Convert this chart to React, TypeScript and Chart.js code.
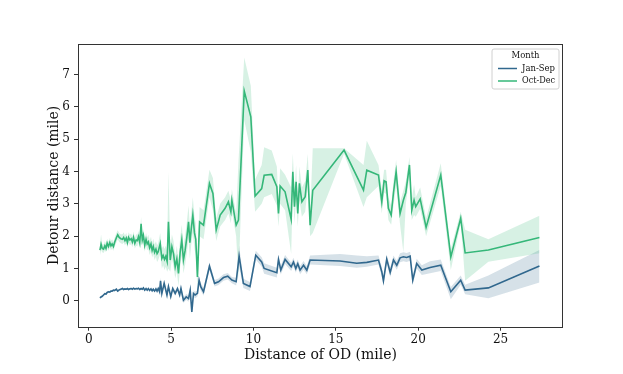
import React, { useEffect, useRef } from "react";
import { Chart, registerables } from "chart.js";

Chart.register(...registerables);

// ---- Data ----
const janSepX = [0.68,0.75,0.82,0.9,0.98,1.05,1.12,1.2,1.28,1.35,1.42,1.5,1.58,1.68,1.76,1.85,1.95,2.05,2.12,2.2,2.28,2.35,2.42,2.5,2.58,2.65,2.72,2.8,2.88,2.95,3.02,3.1,3.18,3.25,3.32,3.4,3.48,3.55,3.62,3.7,3.78,3.85,3.92,4.0,4.08,4.15,4.22,4.3,4.36,4.44,4.58,4.75,4.84,4.98,5.1,5.25,5.39,5.52,5.6,5.75,5.92,6.06,6.16,6.26,6.36,6.46,6.6,6.7,6.8,6.97,7.33,7.64,7.88,8.18,8.44,8.69,8.95,9.13,9.39,9.79,10.14,10.5,10.65,11.42,11.52,11.66,11.92,12.29,12.43,12.57,12.69,12.83,13.04,13.24,13.44,15.26,16.27,16.88,17.59,17.79,17.89,18.09,18.3,18.5,18.7,18.9,19.1,19.3,19.51,19.67,19.91,20.22,20.72,21.37,21.98,22.58,22.85,24.26,27.36];
const janSepMean = [0.09,0.12,0.14,0.18,0.22,0.21,0.26,0.28,0.27,0.3,0.3,0.33,0.32,0.36,0.3,0.34,0.36,0.38,0.35,0.37,0.36,0.38,0.35,0.37,0.38,0.36,0.39,0.36,0.38,0.37,0.39,0.35,0.38,0.36,0.4,0.33,0.38,0.33,0.38,0.32,0.37,0.31,0.36,0.3,0.37,0.3,0.38,0.28,0.62,0.23,0.54,0.18,0.44,0.13,0.38,0.23,0.38,0.18,0.38,0.02,0.12,0.07,0.33,-0.34,0.23,0.18,0.23,0.64,0.44,0.28,1.07,0.54,0.59,0.72,0.76,0.64,0.59,1.38,0.54,0.44,1.41,1.2,1.0,0.87,1.28,0.95,1.28,1.05,1.2,1.0,1.15,0.95,1.1,0.95,1.26,1.23,1.16,1.19,1.26,0.9,0.62,1.29,0.88,1.26,1.1,1.33,1.36,1.34,1.38,0.64,1.15,0.95,1.03,1.1,0.28,0.64,0.33,0.4,1.08];
const janSepLow = [0.06,0.09,0.11,0.15,0.19,0.18,0.23,0.25,0.24,0.27,0.27,0.3,0.29,0.33,0.27,0.31,0.33,0.35,0.32,0.34,0.33,0.35,0.32,0.34,0.35,0.33,0.36,0.33,0.35,0.34,0.36,0.32,0.35,0.33,0.37,0.3,0.35,0.3,0.35,0.29,0.34,0.28,0.33,0.27,0.33,0.26,0.34,0.24,0.52,0.17,0.46,0.12,0.36,0.06,0.3,0.15,0.3,0.1,0.29,-0.07,0.03,-0.03,0.23,-0.42,0.13,0.08,0.13,0.52,0.32,0.16,0.95,0.44,0.49,0.62,0.66,0.54,0.47,1.05,0.4,0.3,1.28,1.05,0.84,0.72,1.14,0.81,1.14,0.92,1.07,0.87,1.02,0.82,0.97,0.82,1.12,1.08,1.02,1.05,1.12,0.75,0.5,1.15,0.74,1.12,0.96,1.19,1.22,1.2,1.24,0.5,1.0,0.8,0.85,0.92,0.05,0.5,0.2,0.08,0.57];
const janSepHigh = [0.12,0.15,0.17,0.21,0.25,0.24,0.29,0.31,0.3,0.33,0.33,0.36,0.35,0.39,0.33,0.37,0.39,0.41,0.38,0.4,0.39,0.41,0.38,0.4,0.41,0.39,0.42,0.39,0.41,0.4,0.42,0.38,0.41,0.39,0.43,0.36,0.41,0.36,0.41,0.35,0.4,0.34,0.39,0.33,0.41,0.34,0.42,0.32,0.72,0.29,0.62,0.24,0.52,0.2,0.46,0.31,0.46,0.26,0.47,0.11,0.21,0.17,0.43,-0.24,0.33,0.28,0.33,0.76,0.56,0.4,1.19,0.64,0.69,0.82,0.86,0.74,0.71,1.7,0.68,0.58,1.55,1.35,1.16,1.02,1.42,1.09,1.42,1.18,1.33,1.13,1.28,1.08,1.23,1.08,1.4,1.45,1.4,1.38,1.4,1.05,0.75,1.43,1.02,1.4,1.24,1.47,1.5,1.48,1.52,0.78,1.3,1.1,1.22,1.28,0.43,0.78,0.5,0.78,1.57];

const octDecX = [0.68,0.75,0.82,0.9,0.98,1.05,1.12,1.2,1.28,1.35,1.42,1.5,1.58,1.68,1.76,1.85,1.95,2.05,2.12,2.2,2.28,2.35,2.42,2.5,2.58,2.65,2.72,2.8,2.88,2.95,3.02,3.1,3.18,3.25,3.32,3.4,3.48,3.55,3.62,3.7,3.78,3.85,3.92,4.0,4.08,4.15,4.22,4.34,4.44,4.52,4.6,4.68,4.76,4.84,4.95,5.05,5.15,5.25,5.35,5.45,5.55,5.65,5.75,5.85,5.96,6.06,6.14,6.22,6.32,6.42,6.5,6.6,6.73,6.97,7.33,7.54,7.74,7.98,8.28,8.48,8.63,8.69,8.95,9.09,9.44,9.84,10.1,10.5,10.65,11.11,11.42,11.52,11.62,11.92,12.29,12.39,12.49,12.59,12.69,12.79,12.94,13.14,13.3,13.44,13.6,15.5,16.68,16.88,17.59,17.79,17.93,18.05,18.19,18.36,18.5,18.66,18.9,19.1,19.25,19.47,19.61,19.75,19.85,20.12,20.48,21.37,21.98,22.58,22.85,24.26,27.36];
const octDecMean = [1.57,1.75,1.62,1.6,1.7,1.62,1.78,1.68,1.8,1.7,1.76,1.68,1.82,1.95,2.04,1.96,1.92,1.9,1.96,1.86,1.94,1.8,1.96,1.88,1.92,1.82,1.96,1.78,1.88,1.86,1.98,1.8,2.38,1.88,2.02,1.72,1.9,1.76,1.82,1.64,1.76,1.56,1.68,1.5,1.6,1.46,1.52,1.77,1.31,1.4,1.28,1.38,1.22,2.44,1.26,1.67,1.45,1.05,1.3,0.85,1.5,1.88,1.26,1.55,1.98,2.44,1.8,2.2,2.65,2.1,1.9,0.74,2.44,2.34,3.63,3.32,2.19,2.65,2.86,3.06,2.75,3.11,2.34,2.5,6.49,5.69,3.24,3.47,3.88,3.91,3.53,2.7,3.55,3.37,2.52,3.99,2.91,3.68,2.7,3.63,3.06,3.22,4.04,2.34,3.42,4.66,3.42,4.04,3.89,3.06,3.71,3.68,2.86,2.65,3.34,3.99,2.7,3.11,3.35,4.2,2.8,3.11,2.91,3.15,2.27,3.89,1.36,2.55,1.48,1.57,1.96];
const octDecLow = [1.4,1.58,1.5,1.48,1.56,1.5,1.64,1.55,1.66,1.56,1.62,1.55,1.68,1.8,1.9,1.82,1.78,1.76,1.8,1.72,1.78,1.64,1.8,1.72,1.76,1.66,1.8,1.62,1.7,1.68,1.8,1.62,2.15,1.7,1.82,1.52,1.7,1.56,1.6,1.42,1.54,1.34,1.44,1.26,1.36,1.2,1.26,1.45,1.0,1.1,0.95,1.05,0.9,1.0,0.9,1.3,1.05,0.7,0.9,0.45,1.05,1.4,0.85,1.1,1.5,1.9,1.3,1.7,2.1,1.6,1.4,0.3,2.0,1.9,3.2,2.8,1.85,2.3,2.5,2.7,2.4,2.75,2.0,0.7,5.6,4.6,2.75,3.0,3.2,3.3,2.95,2.3,3.0,2.8,1.45,3.4,2.4,3.1,2.3,3.1,2.6,2.75,3.5,2.0,2.1,4.55,2.9,3.2,3.55,2.7,3.35,3.3,2.5,2.35,2.95,3.55,2.35,1.5,3.0,3.85,2.5,2.65,2.6,2.85,2.0,3.55,0.95,2.4,0.62,1.21,1.47];
const octDecHigh = [1.72,2.05,1.76,1.74,1.84,1.76,1.92,1.82,1.94,1.85,1.9,1.82,1.96,2.1,2.18,2.1,2.06,2.06,2.12,2.02,2.1,1.96,2.12,2.04,2.08,1.98,2.14,1.94,2.06,2.04,2.16,1.98,2.6,2.06,2.22,1.92,2.1,1.96,2.04,1.86,1.98,1.78,1.92,1.74,1.84,1.72,1.78,2.1,1.62,1.7,1.6,1.7,1.55,4.0,1.62,2.05,1.85,1.4,1.7,1.25,1.95,2.35,1.7,2.0,2.45,2.95,2.3,2.7,3.2,2.6,2.4,1.2,2.9,2.8,4.05,3.8,2.55,3.0,3.2,3.4,3.1,3.45,2.7,4.3,7.52,6.65,3.75,4.2,4.75,4.65,4.15,3.1,4.1,3.9,3.5,4.55,3.45,4.2,3.1,4.15,3.5,3.7,4.55,2.7,4.72,4.72,4.2,4.95,4.2,3.45,4.05,4.05,3.2,2.95,3.7,4.35,3.05,3.4,3.7,4.45,3.15,3.6,3.2,3.5,2.55,4.25,1.6,2.75,2.2,1.9,2.63];

const xTicks = [0, 5, 10, 15, 20, 25];
const yTicks = [0, 1, 2, 3, 4, 5, 6, 7];
const seriesNames = ["Jan-Sep", "Oct-Dec"];

// ---- Style ----
const BLUE = "#31688e";
const GREEN = "#35b779";
const BLUE_FILL = "rgba(49,104,142,0.2)";
const GREEN_FILL = "rgba(53,183,121,0.2)";
const FONT = "'DejaVu Serif', serif";

const pts = (xs: number[], ys: number[]) => xs.map((x, i) => ({ x, y: ys[i] }));

const framePlugin = {
  id: "frameAndLegend",
  afterDraw(chart: any) {
    const { ctx, chartArea: a } = chart;
    ctx.save();
    ctx.strokeStyle = "#333";
    ctx.lineWidth = 1;
    ctx.strokeRect(Math.round(a.left) + 0.5, Math.round(a.top) + 0.5, Math.round(a.right - a.left) - 1, Math.round(a.bottom - a.top));

    // axis titles
    ctx.fillStyle = "#111";
    ctx.font = `14px ${FONT}`;
    ctx.textAlign = "center";
    ctx.textBaseline = "middle";
    ctx.fillText("Distance of OD (mile)", (a.left + a.right) / 2, 355);
    ctx.save();
    ctx.translate(54, (a.top + a.bottom) / 2);
    ctx.rotate(-Math.PI / 2);
    ctx.fillText("Detour distance (mile)", 0, 0);
    ctx.restore();

    // legend
    const lx = 492, ly = 49, lw = 67, lh = 40, r = 2;
    ctx.beginPath();
    ctx.moveTo(lx + r, ly);
    ctx.arcTo(lx + lw, ly, lx + lw, ly + lh, r);
    ctx.arcTo(lx + lw, ly + lh, lx, ly + lh, r);
    ctx.arcTo(lx, ly + lh, lx, ly, r);
    ctx.arcTo(lx, ly, lx + lw, ly, r);
    ctx.closePath();
    ctx.fillStyle = "rgba(255,255,255,0.8)";
    ctx.fill();
    ctx.strokeStyle = "#d0d0d0";
    ctx.lineWidth = 1;
    ctx.stroke();

    ctx.font = `9px ${FONT}`;
    ctx.fillStyle = "#111";
    ctx.textAlign = "center";
    ctx.fillText("Month", lx + lw / 2, 56, 28);
    const cols = [BLUE, GREEN];
    const ys = [68.5, 81];
    seriesNames.forEach((n, i) => {
      ctx.strokeStyle = cols[i];
      ctx.lineWidth = 1.5;
      ctx.beginPath();
      ctx.moveTo(498, ys[i]);
      ctx.lineTo(517, ys[i]);
      ctx.stroke();
      ctx.fillStyle = "#111";
      ctx.textAlign = "left";
      ctx.fillText(n, 522, ys[i], 33);
    });
    ctx.restore();
  },
};

export default function App() {
  const ref = useRef<HTMLCanvasElement>(null);
  useEffect(() => {
    if (!ref.current) return;
    const bandBase = { pointRadius: 0, borderWidth: 0, tension: 0 };
    const chart = new Chart(ref.current, {
      type: "line",
      data: {
        datasets: [
          { ...bandBase, label: "js-lo", data: pts(janSepX, janSepLow), fill: false, order: 4 },
          { ...bandBase, label: "js-hi", data: pts(janSepX, janSepHigh), fill: "-1", backgroundColor: BLUE_FILL, order: 4 },
          { ...bandBase, label: "od-lo", data: pts(octDecX, octDecLow), fill: false, order: 3 },
          { ...bandBase, label: "od-hi", data: pts(octDecX, octDecHigh), fill: "-1", backgroundColor: GREEN_FILL, order: 3 },
          { label: seriesNames[0], data: pts(janSepX, janSepMean), borderColor: BLUE, borderWidth: 1.6, pointRadius: 0, fill: false, order: 2 },
          { label: seriesNames[1], data: pts(octDecX, octDecMean), borderColor: GREEN, borderWidth: 1.6, pointRadius: 0, fill: false, order: 1 },
        ] as any,
      },
      options: {
        animation: false,
        responsive: false,
        events: [],
        layout: { padding: { top: 44, right: 60, left: 0, bottom: 0 } },
        plugins: {
          legend: { display: false },
          tooltip: { enabled: false },
          filler: { drawTime: "beforeDatasetsDraw" },
        } as any,
        scales: {
          x: {
            type: "linear",
            min: -0.65,
            max: 28.79,
            afterBuildTicks: (s: any) => { s.ticks = xTicks.map((v) => ({ value: v })); },
            afterFit: (s: any) => { s.height = 47.3; },
            grid: { drawOnChartArea: false, drawTicks: true, tickLength: 4, color: "#333", tickWidth: 1 },
            border: { display: false },
            ticks: { font: { family: FONT, size: 12 }, color: "#111", padding: 2, maxRotation: 0, autoSkip: false },
          },
          y: {
            type: "linear",
            min: -0.8,
            max: 7.94,
            afterBuildTicks: (s: any) => { s.ticks = yTicks.map((v) => ({ value: v })); },
            afterFit: (s: any) => { s.width = 78; },
            grid: { drawOnChartArea: false, drawTicks: true, tickLength: 4, color: "#333", tickWidth: 1 },
            border: { display: false },
            ticks: { font: { family: FONT, size: 12 }, color: "#111", padding: 4, autoSkip: false },
          },
        },
      },
      plugins: [framePlugin],
    });
    return () => chart.destroy();
  }, []);
  return (
    <div style={{ position: "absolute", left: 0, top: 0, width: 623, height: 374, background: "#fff" }}>
      <canvas ref={ref} width={623} height={374} />
    </div>
  );
}
